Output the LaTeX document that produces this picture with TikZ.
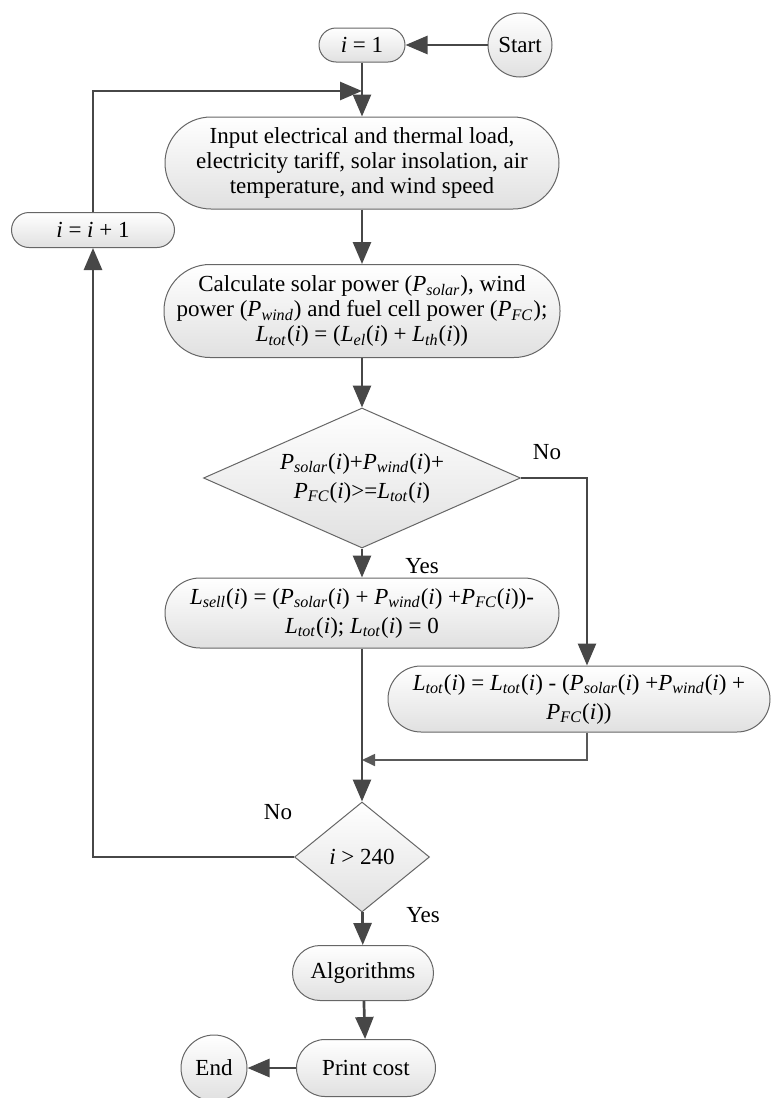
\documentclass[tikz,border=0pt]{standalone}
\usepackage{fontspec}
\setmainfont{Liberation Serif}
\usepackage{tikz}
\usetikzlibrary{arrows.meta,positioning,shapes.geometric}
\newcommand{\idx}{\textit{i}}
\newcommand{\Psol}{\textit{P}\textsubscript{\textit{solar}}}
\newcommand{\Pwnd}{\textit{P}\textsubscript{\textit{wind}}}
\newcommand{\Pfc}{\textit{P}\textsubscript{\textit{FC}}}
\newcommand{\Ltot}{\textit{L}\textsubscript{\textit{tot}}}
\newcommand{\Lel}{\textit{L}\textsubscript{\textit{el}}}
\newcommand{\Lth}{\textit{L}\textsubscript{\textit{th}}}
\newcommand{\Lsell}{\textit{L}\textsubscript{\textit{sell}}}

\begin{document}
\begin{tikzpicture}[
  x=0.5pt, y=-0.5pt,
  txt/.style={font=\fontsize{11.5pt}{12.5pt}\selectfont},
  eqtxt/.style={font=\fontsize{11.5pt}{14.5pt}\selectfont},
  grad/.style={draw=black!60, line width=0.5pt, top color=white, bottom color=black!12},
  term/.style={circle, grad, txt, inner sep=0pt, minimum size=#1},
  proc/.style={rectangle, grad, txt, rounded corners=#1, align=center, inner sep=0pt},
  test/.style={diamond, grad, txt, align=center, inner sep=0pt},
  arr/.style={-{Triangle[length=11pt,width=9pt]}, line width=1.35pt, draw=black!72},
  thinarr/.style={-{Triangle[length=6.5pt,width=6pt]}, line width=0.85pt, draw=black!65},
  lbl/.style={txt}
]
\useasboundingbox (0,0) rectangle (771,1098);

% Nodes
\node[term=32pt] (start) at (520,45) {Start};
\node[proc=8.5pt, minimum width=43pt, minimum height=17pt] (init) at (362,45) {\idx{} = 1};
\node[proc=23pt, minimum width=197pt, minimum height=46pt] (input) at (362,163)
  {Input electrical and thermal load,\\ electricity tariff, solar insolation, air\\ temperature, and wind speed};
\node[proc=8.75pt, minimum width=81.5pt, minimum height=17.5pt] (incr) at (93,230) {\idx{} = \idx{} + 1};
\node[proc=23pt, minimum width=198pt, minimum height=46.5pt] (calc) at (362,311)
  {Calculate solar power (\Psol), wind\\ power (\Pwnd) and fuel cell power (\Pfc);\\ \Ltot(\idx) = (\Lel(\idx) + \Lth(\idx))};
\node[test, eqtxt, aspect=2.26, minimum width=158.5pt, minimum height=70pt] (check) at (362,478)
  {\Psol(\idx)+\Pwnd(\idx)+\\ \Pfc(\idx)>=\Ltot(\idx)};
\node[proc=17.5pt, eqtxt, minimum width=197pt, minimum height=35pt] (sell) at (362,613)
  {\Lsell(\idx) = (\Psol(\idx) + \Pwnd(\idx) +\Pfc(\idx))-\\ \Ltot(\idx); \Ltot(\idx) = 0};
\node[proc=16.5pt, eqtxt, minimum width=191pt, minimum height=33pt] (deficit) at (579,699)
  {\Ltot(\idx) = \Ltot(\idx) - (\Psol(\idx) +\Pwnd(\idx) +\\ \Pfc(\idx))};
\node[test, aspect=1.23, minimum width=67.5pt, minimum height=55pt] (last) at (362,857) {\idx{} > 240};
\node[proc=13.75pt, minimum width=70.5pt, minimum height=27.5pt] (algo) at (363,973) {Algorithms};
\node[proc=14.25pt, minimum width=69.5pt, minimum height=28.5pt] (print) at (366,1068) {Print cost};
\node[term=33pt] (stop) at (214,1068) {End};

% Branch labels
\node[lbl] (no1) at (547,452) {No};
\node[lbl] (yes1) at (422,566) {Yes};
\node[lbl] (no2) at (278,812) {No};
\node[lbl] (yes2) at (423,915) {Yes};

% Helper points
\coordinate (join) at (362,91);
\coordinate (merge) at (362,760);

% Main flow
\draw[arr] (start) -- (init);
\draw[arr] (init) -- (input);
\draw[arr] (input) -- (calc);
\draw[arr] (calc) -- (check);
\draw[arr] (check) -- (sell);
\draw[arr] (check.east) -| ([xshift=4pt]deficit.north);
\draw[thinarr] ([xshift=4pt]deficit.south) |- (merge);
\draw[arr] (sell) -- (last);
\draw[arr] (last) -- (algo);
\draw[arr] (algo) -- (print);
\draw[arr] (print) -- (stop);

% Loop back
\draw[arr] (last.west) -| (incr.south);
\draw[arr] (incr.north) |- (join);

\end{tikzpicture}
\end{document}
